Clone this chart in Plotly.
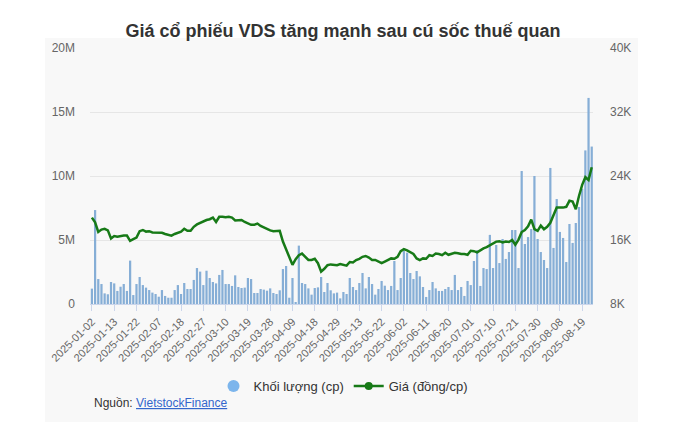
import pandas as pd
import plotly.graph_objects as go

# ---- data -------------------------------------------------------------
holidays = ["2025-01-27", "2025-01-28", "2025-01-29", "2025-01-30", "2025-01-31",
            "2025-04-07", "2025-04-30", "2025-05-01", "2025-05-02"]
dates = [d.strftime("%Y-%m-%d") for d in pd.bdate_range("2025-01-02", "2025-08-22")
         if d.strftime("%Y-%m-%d") not in holidays]

# volume, millions of shares
volume_m = [
    1.20, 7.34, 1.95, 1.56, 0.83, 0.76, 1.72, 1.61, 1.02, 1.35,
    1.56, 1.02, 3.39, 0.70, 1.56, 2.11, 1.48, 1.28, 1.09, 0.89,
    0.78, 0.57, 1.09, 0.63, 0.49, 0.49, 1.09, 1.48, 0.78, 1.64,
    1.17, 1.17, 1.88, 2.81, 2.53, 1.48, 2.60, 2.03, 1.72, 1.61,
    2.27, 2.66, 1.56, 1.56, 1.41, 2.24, 1.33, 1.25, 1.28, 2.03,
    1.95, 0.86, 0.86, 1.17, 1.12, 1.04, 1.22, 0.86, 0.78, 1.07,
    2.73, 2.97, 0.49, 2.03, 0.08, 4.56, 1.64, 1.56, 1.22, 0.73,
    1.25, 1.30, 2.11, 0.94, 1.64, 1.07, 0.83, 0.89, 0.44, 0.94,
    0.78, 2.03, 1.33, 1.09, 1.64, 2.42, 1.22, 2.11, 1.56, 0.73,
    1.17, 1.80, 1.43, 1.09, 1.41, 3.36, 1.09, 2.03, 4.14, 4.01,
    2.42, 1.95, 2.58, 2.16, 1.33, 0.55, 1.09, 1.72, 1.22, 1.02,
    1.02, 1.17, 1.33, 1.09, 2.27, 1.09, 1.33, 0.63, 1.80, 1.48,
    3.36, 4.20, 1.41, 2.81, 2.73, 5.40, 2.81, 4.61, 3.20, 5.08,
    3.52, 4.06, 5.78, 5.78, 2.81, 10.39, 4.69, 5.23, 5.86, 10.00,
    5.08, 4.06, 3.44, 2.81, 10.63, 4.38, 8.20, 5.63, 5.16, 3.28,
    6.25, 4.77, 6.33, 7.58, 9.00, 12.00, 16.10, 12.30,
]

# price, thousand VND per share
price_k = [
    18.8, 18.2, 17.0, 17.3, 17.4, 17.2, 16.2, 16.5, 16.4, 16.5,
    16.55, 16.55, 15.9, 16.1, 16.3, 17.1, 17.25, 17.05, 17.1, 16.95,
    16.95, 16.95, 16.9, 16.75, 16.6, 16.55, 16.75, 16.95, 17.05, 17.4,
    17.15, 17.15, 17.65, 17.95, 18.15, 18.25, 18.5, 18.6, 18.8, 18.25,
    18.9, 18.9, 18.85, 18.9, 18.8, 18.45, 18.5, 18.5, 18.25, 18.1,
    17.9, 17.9, 18.05, 17.75, 17.55, 17.35, 17.2, 17.1, 17.1, 17.15,
    15.8, 14.75, 13.7, 12.9, 13.6, 14.1, 14.3, 13.9, 13.5, 13.5,
    13.65, 13.1, 12.05, 12.4, 12.85, 12.95, 12.9, 12.85, 13.0, 12.85,
    12.8, 13.25, 13.2, 13.5, 13.65, 13.9, 14.0, 13.8, 13.5, 13.5,
    13.3, 13.1, 13.3, 13.5, 13.7, 13.65, 13.9, 14.6, 14.85, 14.7,
    14.5, 14.25, 13.7, 13.5, 13.7, 13.65, 14.1, 14.0, 14.3, 14.25,
    14.1, 14.4, 14.15, 14.25, 14.4, 14.35, 14.25, 14.25, 14.15, 14.65,
    14.6, 14.45, 14.75, 14.95, 15.1, 15.3, 15.5, 15.8, 15.85, 15.7,
    15.8, 15.75, 16.0, 15.4, 16.05, 17.0, 17.25, 17.7, 18.55, 17.35,
    17.15, 17.8, 17.35, 17.65, 18.15, 19.1, 20.05, 20.05, 20.05, 20.15,
    20.9, 20.8, 19.85, 21.5, 22.9, 23.85, 23.5, 25.1,
]

x_tick_labels = ["2025-01-02", "2025-01-13", "2025-01-22", "2025-02-07", "2025-02-18",
                 "2025-02-27", "2025-03-10", "2025-03-19", "2025-03-28", "2025-04-09",
                 "2025-04-18", "2025-04-29", "2025-05-13", "2025-05-22", "2025-06-02",
                 "2025-06-11", "2025-06-20", "2025-07-01", "2025-07-10", "2025-07-21",
                 "2025-07-30", "2025-08-08", "2025-08-19"]
vol_tick_vals = [0, 5, 10, 15, 20]
vol_tick_text = ["0", "5M", "10M", "15M", "20M"]
price_tick_vals = [8, 16, 24, 32, 40]
price_tick_text = ["8K", "16K", "24K", "32K", "40K"]

assert len(dates) == len(volume_m) == len(price_k), (len(dates), len(volume_m), len(price_k))

# ---- styles -----------------------------------------------------------
FONT = "Liberation Sans, Arial, sans-serif"
PANEL = "#f8f8f8"
BAR = "#86aed6"
LINE = "#177a17"

# plot-area geometry (pixels)
W, H = 698, 444
L, R, T, B = 90, 105, 48, 140
pw, ph = W - L - R, H - T - B

def px_x(px):
    return (px - L) / pw

def px_y(py):
    return (H - B - py) / ph

fig = go.Figure()

fig.add_trace(go.Bar(
    x=dates, y=volume_m, marker=dict(color=BAR, line=dict(width=0)),
    name="Khối lượng (cp)", showlegend=False, yaxis="y",
))
fig.add_trace(go.Scatter(
    x=dates, y=price_k, mode="lines", line=dict(color=LINE, width=2.5),
    name="Giá (đồng/cp)", showlegend=False, yaxis="y2",
))
# legend entries
fig.add_trace(go.Scatter(
    x=[None], y=[None], mode="markers", name="Khối lượng (cp)",
    marker=dict(symbol="circle", size=12, color="#7cb5ec"), yaxis="y",
))
fig.add_trace(go.Scatter(
    x=[None], y=[None], mode="lines+markers", name="Giá (đồng/cp)",
    line=dict(color=LINE, width=2.5), marker=dict(symbol="circle", size=8, color=LINE),
    yaxis="y2",
))

fig.add_shape(type="rect", xref="paper", yref="paper",
              x0=px_x(45), x1=px_x(638), y0=px_y(422), y1=px_y(38),
              fillcolor=PANEL, line=dict(width=0), layer="below")

fig.update_layout(
    width=W, height=H,
    margin=dict(l=L, r=R, t=T, b=B, pad=0),
    paper_bgcolor="white",
    plot_bgcolor=PANEL,
    font=dict(family=FONT, color="#666666", size=11),
    title=dict(text="<b>Giá cổ phiếu VDS tăng mạnh sau cú sốc thuế quan</b>",
               x=px_x(343), xanchor="center", xref="paper",
               y=1 - 31 / H, yanchor="middle", yref="container",
               font=dict(family=FONT, size=18, color="#333333")),
    bargap=0.3,
    showlegend=True,
    legend=dict(orientation="h", x=px_x(343), xanchor="center", y=px_y(386), yanchor="middle",
                font=dict(family=FONT, size=13, color="#333333"),
                bgcolor="rgba(0,0,0,0)", itemwidth=30, tracegroupgap=0),
    xaxis=dict(type="category", range=[-0.6, len(dates) - 0.6],
               tickmode="array", tickvals=x_tick_labels, ticktext=x_tick_labels,
               tickangle=-45, ticks="outside", ticklen=6, tickcolor="#ccd6eb",
               showline=True, linecolor="#ccd6eb", linewidth=1,
               showgrid=False, zeroline=False,
               tickfont=dict(family=FONT, size=11, color="#666666")),
    yaxis=dict(range=[0, 20], tickmode="array", tickvals=vol_tick_vals, ticktext=vol_tick_text,
               showgrid=True, gridcolor="#e6e6e6", gridwidth=1, zeroline=False,
               showline=False, ticks="", ticklabelstandoff=14,
               tickfont=dict(family=FONT, size=12, color="#666666")),
    yaxis2=dict(range=[8, 40], overlaying="y", side="right",
                tickmode="array", tickvals=price_tick_vals, ticktext=price_tick_text,
                showgrid=False, zeroline=False, showline=False, ticks="",
                ticklabelstandoff=16,
                tickfont=dict(family=FONT, size=12, color="#666666")),
)

fig.add_annotation(
    xref="paper", yref="paper", x=px_x(92), y=px_y(403), xanchor="left", yanchor="middle",
    showarrow=False,
    text="Nguồn: <a href='https://finance.vietstock.vn' style='color:#3366cc;text-decoration:underline'>VietstockFinance</a>",
    font=dict(family=FONT, size=12, color="#333333"),
)

fig.write_html("out.html")
